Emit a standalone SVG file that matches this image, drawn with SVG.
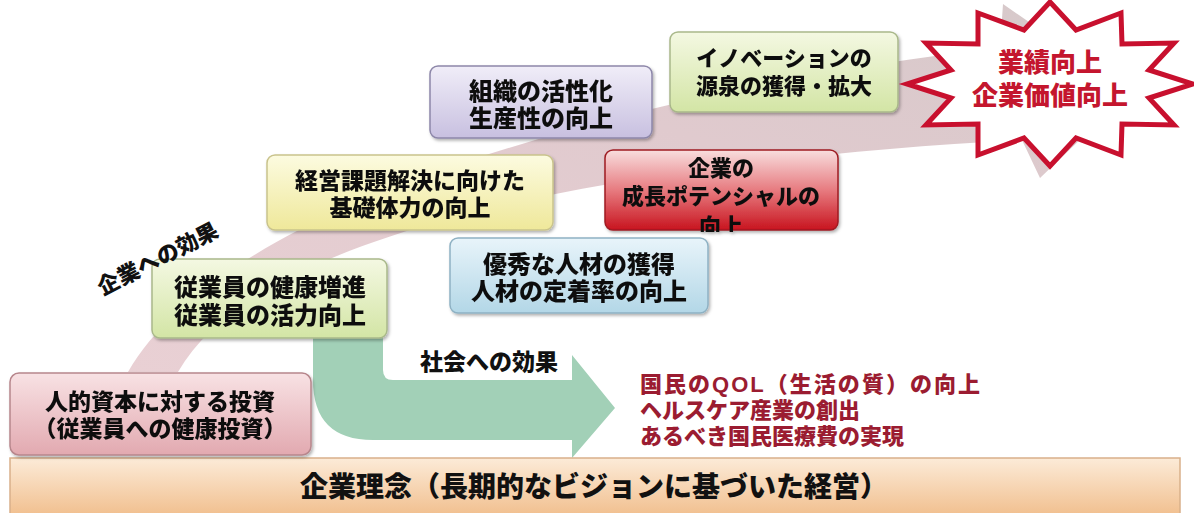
<svg xmlns="http://www.w3.org/2000/svg" width="1194" height="513" viewBox="0 0 1194 513">
<style>
.t{font-family:"Liberation Sans","Noto Sans CJK JP","Noto Sans CJK SC",sans-serif;font-weight:900;text-anchor:middle;dominant-baseline:central;fill:#111}
.r{fill:#9b1c31;text-anchor:start}
.s{fill:#c4162e}
.box{stroke-width:1.5}
</style>
<defs>
<filter id="sh" x="-10%" y="-10%" width="120%" height="130%"><feDropShadow dx="1.5" dy="2" stdDeviation="1.5" flood-color="#000" flood-opacity="0.3"/></filter>
<linearGradient id="gPink" x1="0" y1="0" x2="0" y2="1"><stop offset="0" stop-color="#f8e2e4"/><stop offset="1" stop-color="#e2a9b0"/></linearGradient>
<linearGradient id="gGreen" x1="0" y1="0" x2="0" y2="1"><stop offset="0" stop-color="#f4f8e2"/><stop offset="1" stop-color="#d3e5a5"/></linearGradient>
<linearGradient id="gYellow" x1="0" y1="0" x2="0" y2="1"><stop offset="0" stop-color="#fcfbe0"/><stop offset="1" stop-color="#efe89a"/></linearGradient>
<linearGradient id="gPurple" x1="0" y1="0" x2="0" y2="1"><stop offset="0" stop-color="#f0edf8"/><stop offset="1" stop-color="#c8c0e0"/></linearGradient>
<linearGradient id="gRed" x1="0" y1="0" x2="0" y2="1"><stop offset="0" stop-color="#f8dede"/><stop offset="0.5" stop-color="#e77b80"/><stop offset="1" stop-color="#c8141f"/></linearGradient>
<linearGradient id="gBlue" x1="0" y1="0" x2="0" y2="1"><stop offset="0" stop-color="#e8f4fa"/><stop offset="1" stop-color="#b3d7e7"/></linearGradient>
<linearGradient id="gBar" x1="0" y1="0" x2="0" y2="1"><stop offset="0" stop-color="#fcebd8"/><stop offset="1" stop-color="#f1bf8e"/></linearGradient>
<linearGradient id="gBand" x1="0" y1="1" x2="1" y2="0"><stop offset="0" stop-color="#e9d0d4"/><stop offset="0.6" stop-color="#e0cace"/><stop offset="1" stop-color="#d6c9ca"/></linearGradient>
<clipPath id="cRed"><rect x="605" y="150" width="233" height="82" rx="8"/></clipPath>
</defs>

<g id="connectors">
<path id="bigArrow" d="M128,372 C175,290 300,215 470,160 C620,112 800,70 1000,48 L1003,4 L1130,92 L1040,178 L1022,140 C820,150 600,178 450,218 C320,255 220,300 178,372 Z" fill="url(#gBand)"/>
<path id="greenArrow" d="M313,336 L383,336 L383,370 Q383,380 393,380 L572,380 L572,355 L615,408 L572,458 L572,440 L373,440 Q313,440 313,380 Z" fill="#a2d0b7"/>
</g>

<g id="bar">
<rect x="10" y="458" width="1170" height="58" fill="url(#gBar)" stroke="#d9b08a" stroke-width="1.5"/>
<text class="t" x="594" y="487" font-size="28">企業理念（長期的なビジョンに基づいた経営）</text>
</g>

<g id="n-invest" filter="url(#sh)">
<rect class="box" x="10" y="373" width="301" height="82" rx="9" fill="url(#gPink)" stroke="#b7868c"/>
<text class="t" x="160" y="402" font-size="23"><tspan x="160" y="402">人的資本に対する投資</tspan><tspan x="160" y="429">（従業員への健康投資）</tspan></text>
</g>

<g id="n-health" filter="url(#sh)">
<rect class="box" x="152" y="259" width="235" height="79" rx="8" fill="url(#gGreen)" stroke="#a9b88a"/>
<text class="t" x="270" y="287" font-size="24"><tspan x="270" y="287">従業員の健康増進</tspan><tspan x="270" y="315">従業員の活力向上</tspan></text>
</g>

<g id="n-kigyo-label">
<text class="t" x="158" y="259" font-size="22" transform="rotate(-27 158 259)">企業への効果</text>
</g>

<g id="n-basic" filter="url(#sh)">
<rect class="box" x="267" y="155" width="286" height="75" rx="8" fill="url(#gYellow)" stroke="#c9c38c"/>
<text class="t" x="410" y="181" font-size="23"><tspan x="410" y="181">経営課題解決に向けた</tspan><tspan x="410" y="208">基礎体力の向上</tspan></text>
</g>

<g id="n-org" filter="url(#sh)">
<rect class="box" x="430" y="66" width="222" height="72" rx="8" fill="url(#gPurple)" stroke="#8d87a9"/>
<text class="t" x="541" y="92" font-size="24"><tspan x="541" y="91">組織の活性化</tspan><tspan x="541" y="118">生産性の向上</tspan></text>
</g>

<g id="n-potential" filter="url(#sh)">
<rect class="box" x="605" y="150" width="233" height="80" rx="8" fill="url(#gRed)" stroke="#9e1b22"/>
<g clip-path="url(#cRed)">
<text class="t" x="721" y="168" font-size="22"><tspan x="721" y="168">企業の</tspan><tspan x="721" y="196">成長ポテンシャルの</tspan><tspan x="721" y="226">向上</tspan></text>
</g>
</g>

<g id="n-talent" filter="url(#sh)">
<rect class="box" x="450" y="238" width="258" height="75" rx="8" fill="url(#gBlue)" stroke="#8eb1c3"/>
<text class="t" x="579" y="265" font-size="24"><tspan x="579" y="264">優秀な人材の獲得</tspan><tspan x="579" y="291">人材の定着率の向上</tspan></text>
</g>

<g id="n-innovation" filter="url(#sh)">
<rect class="box" x="670" y="32" width="228" height="80" rx="8" fill="url(#gGreen)" stroke="#a9b88a"/>
<text class="t" x="784" y="58" font-size="22"><tspan x="784" y="58">イノベーションの</tspan><tspan x="784" y="86">源泉の獲得・拡大</tspan></text>
</g>

<g id="n-result">
<polygon points="1050,2 1076,30 1121,13 1122,44 1174,43 1149,70 1193,84 1149,98 1174,125 1122,124 1121,155 1076,138 1050,166 1024,138 978,155 978,124 926,125 951,98 907,84 951,70 926,43 978,44 978,13 1024,30" fill="#fff" stroke="#c8102e" stroke-width="5" stroke-linejoin="miter"/>
<text class="t s" x="1050" y="63" font-size="26"><tspan x="1050" y="63">業績向上</tspan><tspan x="1050" y="96">企業価値向上</tspan></text>
</g>

<g id="n-society-label">
<text class="t" x="489" y="362" font-size="23">社会への効果</text>
</g>

<g id="n-society">
<text class="t r" x="640" y="384" font-size="22"><tspan x="640" y="384" textLength="340" lengthAdjust="spacing">国民のQOL（生活の質）の向上</tspan><tspan x="640" y="410">ヘルスケア産業の創出</tspan><tspan x="640" y="436">あるべき国民医療費の実現</tspan></text>
</g>
</svg>
